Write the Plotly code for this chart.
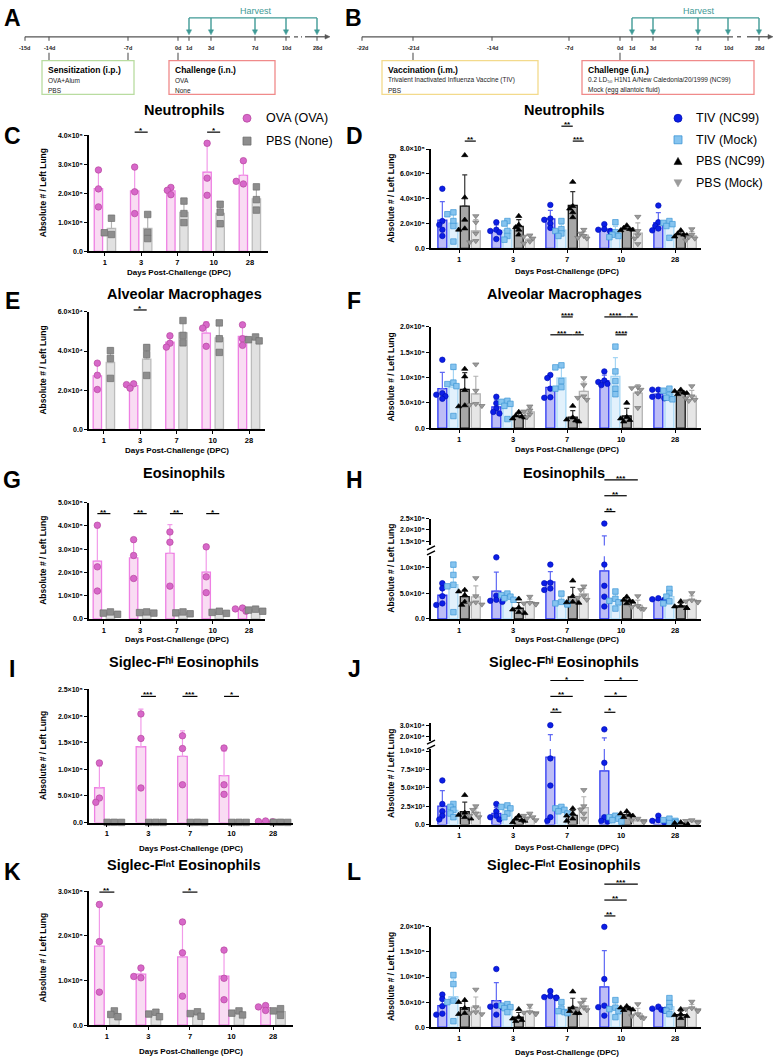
import numpy as np
import plotly.graph_objects as go

W, H = 776, 1060
FONT = "Liberation Sans"

DAYS = ["1", "3", "7", "10", "28"]

# ---------------- OVA model (left column); one inner list per day (1,3,7,10,28) ----------------
NEUT_OVA = [[2.80, 2.15, 1.53], [2.90, 2.05, 1.30], [2.20, 2.10, 1.95], [3.72, 2.52, 1.93], [3.12, 2.32, 2.41]]  # x1e5
NEUT_PBS = [[1.14, 0.58, 0.64], [1.27, 0.65, 0.44], [1.73, 1.30, 0.99], [1.62, 1.35, 0.95], [2.22, 1.78, 1.42]]
AM_OVA = [[3.38, 2.76, 2.03], [2.32, 2.28, 2.10], [4.78, 4.40, 4.20], [5.34, 5.17, 4.24], [5.34, 4.63, 4.29]]  # x1e4
AM_PBS = [[4.02, 3.62, 2.60], [4.18, 3.82, 2.75], [5.56, 4.80, 4.42], [5.44, 4.63, 3.93], [4.72, 4.58, 4.52]]
EOS_OVA = [[4.03, 2.24, 1.20], [3.41, 2.73, 1.74], [3.74, 3.30, 1.41], [3.10, 1.81, 1.13], [0.47, 0.43, 0.33]]  # x1e5
EOS_PBS = [[0.30, 0.25, 0.20], [0.30, 0.27, 0.25], [0.30, 0.26, 0.22], [0.33, 0.28, 0.24], [0.42, 0.38, 0.33]]
SFHI_OVA = [[11.2, 4.6, 3.8], [20.4, 15.8, 6.5], [16.3, 13.9, 7.1], [14.0, 7.1, 5.3], [0.30, 0.20, 0.15]]  # x1e4
SFHI_PBS = [[0.05, 0.04, 0.03], [0.04, 0.03, 0.03], [0.05, 0.03, 0.02], [0.04, 0.03, 0.03], [0.05, 0.04, 0.03]]
SFINT_OVA = [[2.70, 1.87, 0.74], [1.28, 1.06, 1.09], [2.31, 1.62, 0.65], [1.68, 1.05, 0.57], [0.44, 0.41, 0.33]]  # x1e5
SFINT_PBS = [[0.32, 0.24, 0.19], [0.29, 0.25, 0.19], [0.30, 0.26, 0.20], [0.32, 0.27, 0.23], [0.37, 0.32, 0.22]]

# ---------------- Influenza model (right column) ----------------
NEUT_TN = [[4.8, 2.2, 1.9, 1.5, 1.0], [2.1, 1.5, 1.4, 1.3, 0.75], [3.5, 2.4, 2.3, 2.0, 1.65], [1.95, 1.55, 1.5, 1.4, 1.35], [3.45, 2.1, 1.8, 1.6, 1.45]]  # x1e5
NEUT_TM = [[2.9, 2.75, 2.2, 1.8, 0.55], [2.2, 2.0, 1.4, 1.0, 0.7], [2.2, 1.55, 1.4, 1.2, 1.0], [2.1, 1.3, 1.1, 1.0, 0.9], [2.2, 2.05, 1.95, 1.8, 0.85]]
NEUT_PN = [[7.5, 4.1, 2.3, 1.6, 1.5], [2.6, 1.9, 1.7, 1.5, 1.1], [5.35, 3.4, 3.2, 2.9, 2.5], [1.85, 1.65, 1.55, 1.5, 1.45], [1.45, 1.2, 1.1, 1.05, 0.95]]
NEUT_PM = [[2.6, 2.1, 1.2, 0.6, 0.5], [1.05, 0.95, 0.8, 0.55, 0.4], [1.5, 1.2, 1.0, 0.85, 0.8], [2.55, 1.4, 1.05, 0.8, 0.35], [1.55, 1.1, 0.9, 0.8, 0.65]]

AM_TN = [[13.5, 6.9, 6.6, 6.3, 5.8], [6.2, 4.9, 3.9, 3.2, 2.9], [10.5, 9.9, 7.8, 6.1, 6.0], [11.2, 9.4, 9.1, 8.75, 8.5], [7.6, 7.6, 6.3, 6.2, 5.9]]  # x1e4
AM_TM = [[12.1, 9.0, 8.7, 8.3, 2.4], [5.4, 5.2, 4.8, 4.4, 1.8], [12.4, 12.0, 9.3, 8.1, 7.8], [16.1, 11.2, 9.3, 7.8, 6.7], [7.8, 7.4, 6.6, 6.0, 5.7]]
AM_PN = [[11.7, 10.2, 7.5, 4.5, 4.3], [3.2, 2.5, 2.3, 2.1, 1.9], [4.4, 2.1, 1.7, 1.5, 1.3], [5.0, 2.2, 1.9, 1.6, 1.3], [7.6, 7.3, 7.0, 6.9, 6.7]]
AM_PM = [[12.6, 7.4, 4.8, 4.6, 4.4], [4.3, 3.5, 3.3, 2.7, 2.2], [9.9, 8.5, 6.3, 6.0, 5.6], [8.1, 7.9, 7.6, 6.9, 4.0], [8.3, 6.3, 5.9, 5.6, 5.4]]

EOS_TN = [[6.9, 5.9, 4.4, 3.0, 2.7], [11.9, 4.5, 3.7, 3.5, 3.3], [10.5, 7.0, 6.9, 5.9, 5.6], [22.8, 10.5, 6.4, 4.3, 2.4], [4.0, 3.8, 3.7, 3.5, 3.5]]  # x1e4
EOS_TM = [[10.5, 8.5, 6.6, 6.3, 1.3], [4.9, 4.6, 4.3, 4.0, 3.7], [4.9, 3.3, 3.0, 2.9, 2.8], [5.3, 3.9, 3.5, 3.2, 2.0], [5.8, 5.0, 4.3, 3.4, 3.0]]
EOS_PN = [[5.6, 5.3, 4.6, 3.3, 2.7], [3.9, 2.2, 1.8, 1.3, 1.1], [7.4, 4.4, 3.3, 3.2, 3.1], [4.3, 3.7, 3.5, 3.3, 3.0], [3.4, 2.5, 2.4, 2.1, 2.1]]
EOS_PM = [[7.9, 4.4, 3.2, 3.0, 2.8], [4.3, 3.1, 3.0, 2.9, 2.8], [6.3, 5.6, 4.4, 4.1, 3.7], [4.4, 2.5, 2.3, 2.0, 1.9], [5.0, 3.6, 3.4, 3.3, 3.2]]

SFHI_TN = [[6.0, 2.8, 1.8, 1.2, 0.7], [2.8, 1.8, 1.2, 1.0, 0.7], [30.0, 9.0, 5.3, 1.0, 0.5], [26.2, 8.4, 1.0, 0.5, 0.4], [1.2, 0.6, 0.5, 0.4, 0.3]]  # x1e3
SFHI_TM = [[2.8, 2.4, 2.0, 1.5, 1.0], [2.6, 2.4, 2.2, 1.5, 1.0], [2.4, 2.2, 2.0, 1.8, 1.5], [1.2, 1.0, 0.8, 0.6, 0.4], [0.8, 0.6, 0.5, 0.3, 0.2]]
SFHI_PN = [[4.0, 1.6, 1.3, 1.0, 0.8], [1.2, 0.8, 0.6, 0.5, 0.3], [2.2, 1.5, 1.2, 0.8, 0.5], [1.8, 1.5, 1.3, 1.2, 1.0], [0.3, 0.2, 0.2, 0.1, 0.1]]
SFHI_PM = [[2.5, 2.0, 1.5, 1.2, 1.0], [1.5, 1.2, 1.0, 0.8, 0.6], [4.7, 2.5, 2.0, 1.5, 0.8], [0.8, 0.6, 0.5, 0.4, 0.3], [0.6, 0.5, 0.4, 0.3, 0.2]]

SFINT_TN = [[6.5, 5.6, 4.2, 2.7, 2.5], [11.6, 4.3, 4.1, 4.0, 2.5], [7.2, 6.2, 6.0, 5.9, 5.8], [20.0, 9.6, 4.3, 4.0, 2.3], [4.1, 3.7, 3.5, 3.4, 3.3]]  # x1e4
SFINT_TM = [[10.4, 8.6, 5.3, 5.0, 1.2], [4.6, 4.3, 4.0, 3.8, 3.0], [5.0, 3.7, 3.2, 3.0, 2.8], [5.4, 3.9, 3.6, 3.2, 2.0], [5.8, 4.8, 4.0, 3.3, 2.6]]
SFINT_PN = [[5.4, 5.0, 3.8, 2.8, 2.6], [3.6, 2.0, 1.7, 1.4, 1.2], [7.1, 3.9, 3.2, 2.8, 2.8], [4.2, 3.9, 3.7, 3.5, 3.4], [3.6, 2.6, 2.4, 2.2, 1.8]]
SFINT_PM = [[7.5, 4.0, 3.0, 2.8, 2.6], [4.3, 3.0, 2.9, 2.8, 2.6], [5.5, 4.8, 3.9, 3.6, 3.4], [4.6, 2.6, 2.2, 2.0, 1.8], [5.1, 3.8, 3.6, 3.4, 3.2]]

LEFT_GROUPS = ["OVA (OVA)", "PBS (None)"]
RIGHT_GROUPS = ["TIV (NC99)", "TIV (Mock)", "PBS (NC99)", "PBS (Mock)"]

TL_A_LABELS = ["-15d", "-14d", "-7d", "0d", "1d", "3d", "7d", "10d", "28d"]
TL_B_LABELS = ["-22d", "-21d", "-14d", "-7d", "0d", "1d", "3d", "7d", "10d", "28d"]

# ---------------- styles ----------------
STY = {
    "OVA (OVA)": dict(fill="#f9dcf3", edge="#ee7fe3", err="#f29be9", sym="circle", mfill="#d768c9", mline="#b8479f"),
    "PBS (None)": dict(fill="#e1e1e1", edge="#bcbcbc", err="#b5b5b5", sym="square", mfill="#8d8d8d", mline="#6e6e6e"),
    "TIV (NC99)": dict(fill="#bdbdf6", edge="#2b36f2", err="#5e68f4", sym="circle", mfill="#0c1ee6", mline="#0010b8"),
    "TIV (Mock)": dict(fill="#e2f1fc", edge="#a6d6f4", err="#a6d6f4", sym="square", mfill="#86c4ef", mline="#3d96d6"),
    "PBS (NC99)": dict(fill="#a7a7a7", edge="#111111", err="#333333", sym="triangle-up", mfill="#000000", mline="#000000"),
    "PBS (Mock)": dict(fill="#e6e6e6", edge="#b3b3b3", err="#b3b3b3", sym="triangle-down", mfill="#9b9b9b", mline="#777777"),
}
TEAL = "#3f9a96"
GREY_LINE = "#555555"
SUP = str.maketrans("0123456789-", "⁰¹²³⁴⁵⁶⁷⁸⁹⁻")

fig = go.Figure()
layout = {}
shapes, annos = [], []
counter = [0]


def fx(x):
    return x / W


def fy(y):
    return 1 - y / H


def ref(l, n):
    return l if n == 1 else f"{l}{n}"


def key(l, n):
    return f"{l}axis" if n == 1 else f"{l}axis{n}"


def fmt_tick(v):
    if v == 0:
        return "0.0"
    e = int(np.floor(np.log10(v) + 1e-9))
    return f"{v / 10 ** e:.1f}×10" + str(e).translate(SUP)


def text(x, y, s, size, weight="normal", color="black", xanchor="center", yanchor="middle", angle=0):
    annos.append(dict(x=fx(x), y=fy(y), xref="paper", yref="paper", text=s, showarrow=False,
                      xanchor=xanchor, yanchor=yanchor, textangle=angle,
                      font=dict(family=FONT, size=size, color=color, weight=weight)))


def line(x0, y0, x1, y1, color="black", width=1.2, dash=None):
    shapes.append(dict(type="line", xref="paper", yref="paper", x0=fx(x0), y0=fy(y0), x1=fx(x1), y1=fy(y1),
                       line=dict(color=color, width=width, dash=dash)))


def tri(pts, color):
    path = "M " + " L ".join(f"{fx(a)} {fy(b)}" for a, b in pts) + " Z"
    shapes.append(dict(type="path", xref="paper", yref="paper", path=path, fillcolor=color,
                       line=dict(color=color, width=0.5)))


def make_panel(xdom, xr, segs):
    n0 = counter[0] + 1
    ys = []
    for (bot, top, lo, hi, tv) in segs:
        counter[0] += 1
        n = counter[0]
        layout[key("y", n)] = dict(domain=[fy(bot), fy(top)], range=[lo, hi], anchor=ref("x", n0),
                                   showline=True, linecolor="black", linewidth=1.6, ticks="outside",
                                   ticklen=3, tickwidth=1.3, tickcolor="black", tickvals=tv,
                                   ticktext=[fmt_tick(v) for v in tv],
                                   tickfont=dict(family=FONT, size=7, color="black", weight="bold"),
                                   showgrid=False, zeroline=False, fixedrange=True)
        ys.append((ref("y", n), bot, top, lo, hi))
    layout[key("x", n0)] = dict(domain=[fx(xdom[0]), fx(xdom[1])], range=list(xr), anchor=ref("y", n0),
                                tickvals=list(range(len(DAYS))), ticktext=DAYS, showline=True,
                                linecolor="black", linewidth=1.6, ticks="outside", ticklen=3,
                                tickwidth=1.3, tickcolor="black",
                                tickfont=dict(family=FONT, size=7.5, color="black", weight="bold"),
                                showgrid=False, zeroline=False, fixedrange=True)
    return ref("x", n0), ys


def spread(ypx, msize):
    placed, res = [], []
    for y in ypx:
        dx = 0
        for k in [0, -1, 1, -2, 2]:
            dx = k * msize * 0.55
            if all((dx - a) ** 2 + (y - b) ** 2 >= (msize * 0.7) ** 2 for a, b in placed):
                break
        placed.append((dx, y))
        res.append(dx)
    return res


def draw_group(xref, ys, data, unit, off, width, sty, xpx_unit, msize):
    vals = [np.array(v, float) * unit for v in data]
    means = [float(v.mean()) for v in vals]
    sds = [float(v.std(ddof=1)) for v in vals]
    xs = [i + off for i in range(len(vals))]
    for (yref, bot, top, lo, hi) in ys:
        fig.add_trace(go.Bar(x=xs, y=means, width=width, xaxis=xref, yaxis=yref,
                             marker=dict(color=sty["fill"], line=dict(color=sty["edge"], width=1.3)),
                             error_y=dict(type="data", symmetric=False, array=sds, arrayminus=[0] * len(sds),
                                          color=sty["err"], thickness=1.2, width=2.5),
                             showlegend=False, hoverinfo="skip"))
    lower_hi = ys[0][4]
    for si, (yref, bot, top, lo, hi) in enumerate(ys):
        pxper = (bot - top) / (hi - lo)
        X, Y = [], []
        for i, v in enumerate(vals):
            if si == 0:
                sel = [u for u in v if u <= lower_hi]
            else:
                sel = [u for u in v if u > lower_hi]
            if not sel:
                continue
            dxs = spread([(u - lo) * pxper for u in sel], msize)
            X += [i + off + d / xpx_unit for d in dxs]
            Y += sel
        if X:
            fig.add_trace(go.Scatter(x=X, y=Y, xaxis=xref, yaxis=yref, mode="markers", cliponaxis=False,
                                     marker=dict(symbol=sty["sym"], size=msize, color=sty["mfill"],
                                                 line=dict(color=sty["mline"], width=0.7)),
                                     showlegend=False, hoverinfo="skip"))


def sig(xref, day, offs, a, b, label, ypx):
    shapes.append(dict(type="line", xref=xref, yref="paper", x0=day + offs[a], x1=day + offs[b],
                       y0=fy(ypx), y1=fy(ypx), line=dict(color="black", width=1.2)))
    annos.append(dict(xref=xref, yref="paper", x=day + (offs[a] + offs[b]) / 2, y=fy(ypx - 1.5),
                      text=label, showarrow=False, yanchor="middle",
                      font=dict(family=FONT, size=8, color="black", weight="bold")))


# ---------------- panel geometry ----------------
LEFT_OFFS = [-0.18, 0.18]
RIGHT_OFFS = [-0.31, -0.105, 0.105, 0.31]

T_SFHI = "Siglec-Fʰⁱ Eosinophils"
T_SFINT = "Siglec-Fⁱⁿᵗ Eosinophils"

left_panels = [
    ("C", "Neutrophils", [NEUT_OVA, NEUT_PBS], 1e5, (89, 268), (-0.44, 4.5),
     [(249, 132, 0, 4e5, [0, 1e5, 2e5, 3e5, 4e5])], 107, 270,
     [(1, 0, 1, "*", 129), (3, 0, 1, "*", 129)]),
    ("E", "Alveolar Macrophages", [AM_OVA, AM_PBS], 1e4, (89, 265), (-0.41, 4.44),
     [(428, 310, 0, 6e4, [0, 2e4, 4e4, 6e4])], 292, 449,
     [(1, 0, 1, "*", 308)]),
    ("G", "Eosinophils", [EOS_OVA, EOS_PBS], 1e5, (89, 265), (-0.41, 4.44),
     [(619, 502, 0, 5e5, [0, 1e5, 2e5, 3e5, 4e5, 5e5])], 472, 640,
     [(0, 0, 1, "**", 513), (1, 0, 1, "**", 513), (2, 0, 1, "**", 513), (3, 0, 1, "*", 513)]),
    ("I", T_SFHI, [SFHI_OVA, SFHI_PBS], 1e4, (89, 293), (-0.43, 4.48),
     [(824, 690, 0, 2.5e5, [0, 5e4, 1e5, 1.5e5, 2e5, 2.5e5])], 662, 850,
     [(1, 0, 1, "***", 697), (2, 0, 1, "***", 697), (3, 0, 1, "*", 697)]),
    ("K", T_SFINT, [SFINT_OVA, SFINT_PBS], 1e5, (89, 293), (-0.43, 4.48),
     [(1028, 893, 0, 3e5, [0, 1e5, 2e5, 3e5])], 867, 1054,
     [(0, 0, 1, "**", 894), (2, 0, 1, "*", 894)]),
]

right_panels = [
    ("D", "Neutrophils", [NEUT_TN, NEUT_TM, NEUT_PN, NEUT_PM], 1e5,
     [(246, 146, 0, 8e5, [0, 2e5, 4e5, 6e5, 8e5])], 107, 269,
     [(0, 2, 3, "**", 138), (2, 1, 2, "**", 123), (2, 2, 3, "***", 138)]),
    ("F", "Alveolar Macrophages", [AM_TN, AM_TM, AM_PN, AM_PM], 1e4,
     [(427, 325, 0, 2e5, [0, 5e4, 1e5, 1.5e5, 2e5])], 292, 448,
     [(2, 1, 2, "****", 315), (2, 0, 2, "***", 333), (2, 2, 3, "**", 333),
      (3, 0, 2, "****", 315), (3, 2, 3, "*", 315), (3, 1, 2, "****", 333)]),
    ("H", "Eosinophils", [EOS_TN, EOS_TM, EOS_PN, EOS_PM], 1e4,
     [(619, 556, 0, 1.21e5, [0, 5e4, 1e5]), (545, 518, 1.326e5, 2.5e5, [1.5e5, 2e5, 2.5e5])], 472, 640,
     [(3, 0, 3, "***", 479), (3, 0, 2, "**", 495), (3, 0, 1, "**", 511)]),
    ("J", T_SFHI, [SFHI_TN, SFHI_TM, SFHI_PN, SFHI_PM], 1e3,
     [(826, 750, 0, 1.027e4, [0, 2.5e3, 5e3, 7.5e3, 1e4]), (742, 724, 1.55e4, 3.18e4, [2e4, 3e4])], 662, 849,
     [(2, 0, 3, "*", 681), (2, 0, 2, "**", 697), (2, 0, 1, "**", 713),
      (3, 0, 3, "*", 681), (3, 0, 2, "*", 697), (3, 0, 1, "*", 713)]),
    ("L", T_SFINT, [SFINT_TN, SFINT_TM, SFINT_PN, SFINT_PM], 1e4,
     [(1030, 929, 0, 2e5, [0, 5e4, 1e5, 1.5e5, 2e5])], 867, 1055,
     [(3, 0, 3, "***", 886), (3, 0, 2, "**", 902), (3, 0, 1, "**", 918)]),
]

YTITLE = "Absolute # / Left Lung"
XTITLE = "Days Post-Challenge (DPC)"

for (letter, title, datasets, unit, xdom, xr, segs, ty, xty, sigs) in left_panels:
    xref, ys = make_panel(xdom, xr, segs)
    xpx = (xdom[1] - xdom[0]) / (xr[1] - xr[0])
    for g, data in enumerate(datasets):
        draw_group(xref, ys, data, unit, LEFT_OFFS[g], 0.23, STY[LEFT_GROUPS[g]], xpx, 6.5)
    for (d, a, b, lab, yp) in sigs:
        sig(xref, d, LEFT_OFFS, a, b, lab, yp)
    text(12, ty + (7 if letter != "C" else 26), letter, 23, "bold")
    text((xdom[0] + 261) / 2 + 9, ty, title, 14.5, "bold")
    ytop = min(s[1] for s in segs)
    ybot = max(s[0] for s in segs)
    text(43, (ytop + ybot) / 2, YTITLE, 8.5, "bold", angle=-90)
    text((xdom[0] + xdom[1]) / 2, xty, XTITLE, 8, "bold")

for (letter, title, datasets, unit, segs, ty, xty, sigs) in right_panels:
    xdom, xr = (431, 701), (-0.52, 4.48)
    xref, ys = make_panel(xdom, xr, segs)
    xpx = (xdom[1] - xdom[0]) / (xr[1] - xr[0])
    for g, data in enumerate(datasets):
        draw_group(xref, ys, data, unit, RIGHT_OFFS[g], 0.165, STY[RIGHT_GROUPS[g]], xpx, 5.5)
    for (d, a, b, lab, yp) in sigs:
        sig(xref, d, RIGHT_OFFS, a, b, lab, yp)
    text(354, ty + (7 if letter != "D" else 26), letter, 23, "bold")
    text(564, ty, title, 14.5, "bold")
    ytop = min(s[1] for s in segs)
    ybot = max(s[0] for s in segs)
    text(391, (ytop + ybot) / 2, YTITLE, 8.5, "bold", angle=-90)
    text(567, xty, XTITLE, 8, "bold")
    if len(segs) > 1:
        gap_mid = (segs[0][1] + segs[1][0]) / 2
        line(427, gap_mid - 1, 435, gap_mid - 5, width=1.3)
        line(427, gap_mid + 4, 435, gap_mid, width=1.3)


# ---------------- legends ----------------
def legend_marker(cx, cy, sty, r=4):
    fill, edge = sty["mfill"], sty["mline"]
    if sty["sym"] == "circle":
        shapes.append(dict(type="circle", xref="paper", yref="paper", x0=fx(cx - r), x1=fx(cx + r),
                           y0=fy(cy + r), y1=fy(cy - r), fillcolor=fill, line=dict(color=edge, width=0.8)))
    elif sty["sym"] == "square":
        shapes.append(dict(type="rect", xref="paper", yref="paper", x0=fx(cx - r), x1=fx(cx + r),
                           y0=fy(cy + r), y1=fy(cy - r), fillcolor=fill, line=dict(color=edge, width=0.8)))
    else:
        s = 1 if sty["sym"] == "triangle-up" else -1
        tri([(cx, cy - s * r), (cx - r, cy + s * r * 0.8), (cx + r, cy + s * r * 0.8)], fill)


for i, g in enumerate(LEFT_GROUPS):
    cy = 115 + i * 23
    legend_marker(247, cy, STY[g])
    text(264, cy, g, 12.5, xanchor="left")
for i, g in enumerate(RIGHT_GROUPS):
    cy = 115 + i * 21.7
    legend_marker(678, cy, STY[g])
    text(694, cy, g, 12.5, xanchor="left")


# ---------------- timelines ----------------
def down_arrow(x, y_from, y_to, color):
    line(x, y_from, x, y_to - 4, color=color, width=1.4)
    tri([(x, y_to), (x - 2.6, y_to - 5), (x + 2.6, y_to - 5)], color)


def timeline(x_start, tick_pos, labels, solid_end, dash_end, x_end, harvest_idx, harvest_label_x, boxes):
    yl = 33
    line(x_start, yl, solid_end, yl, color=GREY_LINE, width=1.3)
    line(solid_end + 4, yl, dash_end, yl, color=GREY_LINE, width=1.3, dash="4px,3px")
    line(dash_end + 3, yl, x_end - 4, yl, color=GREY_LINE, width=1.3)
    tri([(x_end, yl), (x_end - 5, yl - 2.3), (x_end - 5, yl + 2.3)], GREY_LINE)
    for xp, lab in zip(tick_pos, labels):
        line(xp, yl, xp, yl + 4, color=GREY_LINE, width=1.1)
        text(xp, 44, lab, 5.5, "bold", color="#222222")
    hx = [tick_pos[i] for i in harvest_idx]
    line(hx[0], 14, hx[-1], 14, color=TEAL, width=1.4)
    for xp in hx:
        down_arrow(xp, 14, 31, TEAL)
    text(harvest_label_x, 7, "Harvest", 9, color=TEAL)
    for (x0, x1, conn, col, lines_) in boxes:
        for c in conn:
            line(c, 49, c, 57, color=GREY_LINE, width=1.1)
        shapes.append(dict(type="rect", xref="paper", yref="paper", x0=fx(x0), x1=fx(x1), y0=fy(91), y1=fy(57),
                           line=dict(color=col, width=1.3), fillcolor="white"))
        text(x0 + 4, 66, lines_[0], 8.5, "bold", xanchor="left")
        for k, s in enumerate(lines_[1:]):
            text(x0 + 4, 77 + 10 * k, s, 6.5, xanchor="left", color="#222222")


TL_A_POS = [25, 49, 128, 178, 189, 211, 255, 286, 317]
TL_B_POS = [362, 413, 492, 569, 620, 632, 653, 698, 728, 759]

timeline(25, TL_A_POS, TL_A_LABELS, 290, 302, 330, [4, 5, 6, 7, 8], 256,
         [(42, 134, [49, 128], "#b9dca0", ["Sensitization (i.p.)", "OVA+Alum", "PBS"]),
          (169, 275, [178], "#f08a8a", ["Challenge (i.n.)", "OVA", "None"])])
timeline(362, TL_B_POS, TL_B_LABELS, 733, 744, 773, [5, 6, 7, 8, 9], 699,
         [(382, 538, [413], "#f3da8c", ["Vaccination (i.m.)", "Trivalent Inactivated Influenza Vaccine (TIV)", "PBS"]),
          (582, 754, [620], "#f08a8a", ["Challenge (i.n.)", "0.2 LD₅₀ H1N1 A/New Caledonia/20/1999 (NC99)",
                                        "Mock (egg allantoic fluid)"])])
text(12, 14, "A", 23, "bold")
text(353, 14, "B", 23, "bold")

fig.update_layout(width=W, height=H, margin=dict(l=0, r=0, t=0, b=0), paper_bgcolor="white",
                  plot_bgcolor="white", barmode="overlay", showlegend=False,
                  font=dict(family=FONT, color="black"), shapes=shapes, annotations=annos, **layout)
fig.write_html("out.html")
